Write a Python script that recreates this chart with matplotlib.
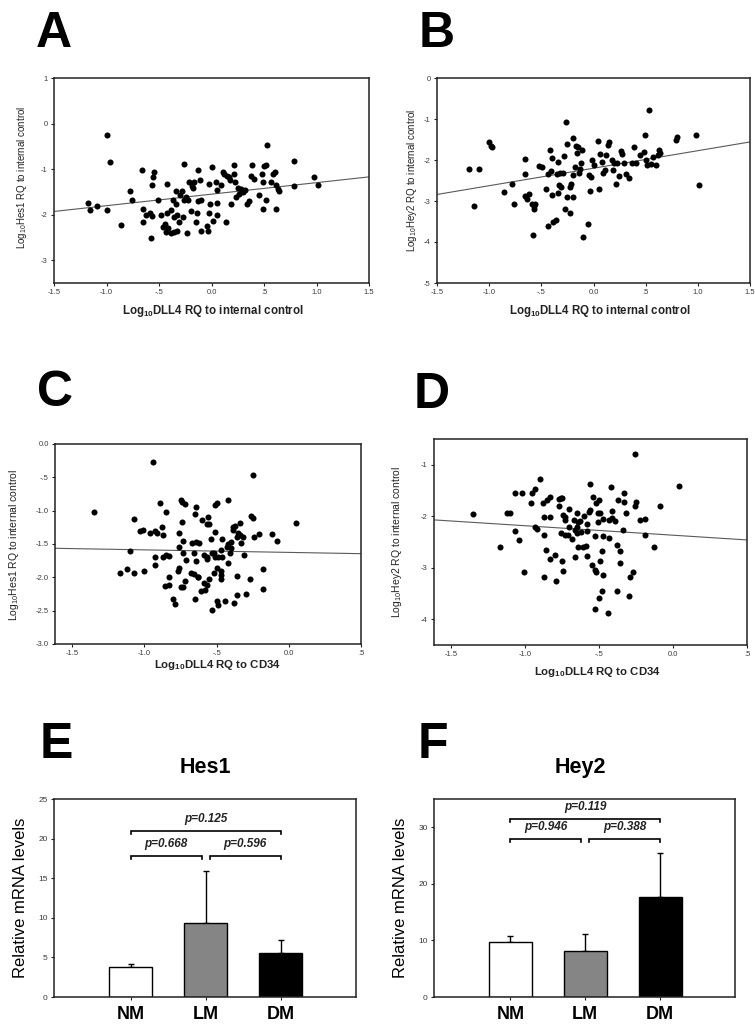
import matplotlib
matplotlib.use('Agg')
import matplotlib.pyplot as plt
import numpy as np

plt.rcParams['font.family'] = ['Liberation Sans', 'DejaVu Sans']
plt.rcParams['mathtext.default'] = 'regular'
plt.rcParams['axes.unicode_minus'] = False

# ---------------- data ----------------
A_x = [-1.18, -1.16, -1.09, -1.00, -1.00, -0.97, -0.86, -0.78, -0.76, -0.66, -0.65, -0.65, -0.62, -0.59,
       -0.58, -0.57, -0.57, -0.55, -0.56, -0.51, -0.48, -0.46, -0.44, -0.42, -0.42, -0.43, -0.41, -0.39,
       -0.39, -0.37, -0.36, -0.36, -0.34, -0.34, -0.33, -0.33, -0.31, -0.30, -0.28, -0.27, -0.26, -0.26,
       -0.24, -0.23, -0.22, -0.21, -0.20, -0.19, -0.18, -0.17, -0.15, -0.14, -0.13, -0.13, -0.11, -0.10,
       -0.10, -0.04, -0.03, -0.02, -0.02, -0.01, 0.00, 0.01, 0.04, 0.05, 0.05, 0.05, 0.09, 0.11, 0.12,
       0.14, 0.15, 0.17, 0.18, 0.19, 0.21, 0.21, 0.22, 0.23, 0.25, 0.26, 0.28, 0.30, 0.32, 0.34, 0.36,
       0.38, 0.39, 0.40, 0.45, 0.48, 0.49, 0.49, 0.50, 0.52, 0.52, 0.53, 0.57, 0.59, 0.60, 0.61, 0.61,
       0.63, 0.64, 0.79, 0.79, 0.98, 1.01]
A_y = [-1.74, -1.90, -1.81, -0.25, -1.90, -0.85, -2.22, -1.49, -1.67, -1.01, -1.88, -2.16, -2.01, -1.96,
       -2.51, -1.35, -2.03, -1.07, -1.17, -1.67, -2.01, -2.26, -2.20, -1.33, -1.96, -2.38, -2.29, -1.90,
       -2.40, -1.68, -2.06, -2.38, -1.49, -1.76, -2.00, -2.35, -2.15, -1.57, -1.49, -2.05, -0.88, -1.68,
       -1.61, -2.40, -1.67, -1.28, -1.92, -1.36, -1.41, -1.28, -2.15, -1.96, -1.02, -1.70, -1.24, -1.67,
       -2.35, -2.24, -2.35, -1.96, -1.33, -1.77, -0.95, -2.13, -1.29, -1.46, -1.74, -2.00, -1.34, -1.06,
       -1.10, -2.16, -1.15, -1.18, -1.24, -1.76, -0.90, -1.10, -1.29, -1.61, -1.41, -1.54, -1.44, -1.50,
       -1.46, -1.76, -1.70, -1.15, -0.90, -1.22, -1.57, -1.10, -1.29, -1.87, -0.93, -0.91, -1.67, -0.46,
       -1.28, -1.10, -1.06, -1.35, -1.87, -1.43, -1.49, -0.82, -1.37, -1.18, -1.34]
A_fit = [0.253, -1.55]   # slope, intercept

B_x = [-1.19, -1.15, -1.10, -1.00, -0.98, -0.97, -0.86, -0.78, -0.76, -0.66, -0.66, -0.66, -0.64, -0.62,
       -0.59, -0.58, -0.57, -0.57, -0.56, -0.52, -0.49, -0.46, -0.44, -0.44, -0.42, -0.41, -0.40, -0.40,
       -0.39, -0.36, -0.35, -0.34, -0.34, -0.33, -0.32, -0.31, -0.29, -0.28, -0.27, -0.26, -0.25, -0.25,
       -0.23, -0.23, -0.22, -0.20, -0.20, -0.20, -0.18, -0.17, -0.16, -0.15, -0.14, -0.13, -0.12, -0.11,
       -0.10, -0.05, -0.04, -0.03, -0.02, -0.01, 0.00, 0.04, 0.05, 0.06, 0.08, 0.09, 0.11, 0.12, 0.14,
       0.15, 0.18, 0.19, 0.20, 0.22, 0.23, 0.24, 0.26, 0.27, 0.29, 0.31, 0.34, 0.37, 0.39, 0.41, 0.45,
       0.48, 0.49, 0.50, 0.51, 0.53, 0.55, 0.57, 0.60, 0.62, 0.63, 0.64, 0.79, 0.80, 0.98, 1.01]
B_y = [-2.23, -3.11, -2.22, -1.56, -1.67, -1.68, -2.78, -2.58, -3.07, -1.97, -2.33, -2.89, -2.94, -2.84,
       -3.07, -3.84, -3.11, -3.20, -3.08, -2.14, -2.16, -2.70, -3.62, -2.33, -1.76, -2.27, -2.86, -1.94,
       -3.51, -3.47, -2.33, -2.05, -2.80, -2.62, -2.31, -2.66, -2.31, -1.91, -3.20, -1.07, -2.90, -1.62,
       -2.66, -3.29, -2.58, -2.37, -1.46, -2.90, -2.17, -1.67, -1.83, -1.68, -2.31, -2.21, -2.07, -1.76,
       -3.88, -3.57, -2.36, -2.76, -2.41, -2.01, -2.13, -1.54, -2.70, -1.86, -2.05, -2.31, -2.25, -1.89,
       -1.63, -1.56, -2.01, -2.25, -2.07, -2.58, -2.07, -2.39, -1.78, -1.86, -2.07, -2.35, -2.44, -2.07,
       -1.68, -2.07, -1.89, -1.80, -1.40, -2.01, -2.13, -0.79, -2.09, -1.93, -2.13, -1.89, -1.76, -1.82,
       -1.52, -1.44, -1.40, -2.62]
B_fit = [0.427, -2.20]

C_x = [-1.35, -1.17, -1.12, -1.10, -1.07, -1.07, -1.03, -1.01, -1.00, -0.96, -0.94, -0.93, -0.93, -0.93,
       -0.91, -0.89, -0.88, -0.87, -0.87, -0.86, -0.85, -0.85, -0.83, -0.83, -0.83, -0.80, -0.79, -0.77,
       -0.76, -0.76, -0.76, -0.75, -0.75, -0.74, -0.74, -0.73, -0.73, -0.73, -0.72, -0.72, -0.71, -0.68,
       -0.67, -0.66, -0.66, -0.65, -0.65, -0.64, -0.64, -0.64, -0.63, -0.63, -0.62, -0.61, -0.60, -0.59,
       -0.59, -0.58, -0.57, -0.57, -0.57, -0.57, -0.56, -0.55, -0.55, -0.54, -0.53, -0.53, -0.52, -0.52,
       -0.51, -0.51, -0.51, -0.50, -0.50, -0.50, -0.49, -0.49, -0.47, -0.47, -0.47, -0.47, -0.46, -0.46,
       -0.44, -0.43, -0.42, -0.42, -0.42, -0.41, -0.40, -0.40, -0.39, -0.39, -0.38, -0.37, -0.36, -0.36,
       -0.36, -0.35, -0.34, -0.34, -0.33, -0.32, -0.31, -0.30, -0.27, -0.26, -0.25, -0.25, -0.24, -0.21,
       -0.18, -0.18, -0.12, -0.08, 0.05]
C_y = [-1.02, -1.94, -1.87, -1.60, -1.12, -1.93, -1.30, -1.29, -1.91, -1.34, -0.27, -1.31, -1.70, -1.81,
       -1.33, -0.88, -1.24, -1.36, -1.69, -2.13, -1.02, -1.66, -2.11, -1.68, -2.00, -2.33, -2.40, -1.90,
       -1.54, -1.86, -1.33, -2.15, -0.84, -0.87, -1.17, -1.64, -1.46, -2.15, -2.05, -0.90, -1.74, -1.93,
       -1.48, -1.64, -1.95, -1.05, -2.32, -0.95, -1.47, -1.76, -2.00, -1.99, -1.48, -2.21, -1.14, -2.09,
       -1.66, -2.19, -1.20, -1.73, -1.69, -2.12, -1.09, -1.20, -2.03, -1.43, -1.64, -2.49, -1.63, -1.94,
       -0.92, -1.32, -1.70, -2.36, -0.89, -1.86, -1.69, -2.41, -1.59, -1.90, -1.96, -2.03, -1.70, -1.42,
       -2.36, -1.54, -1.50, -0.84, -1.79, -1.64, -1.47, -1.56, -1.29, -1.25, -2.39, -1.23, -1.98, -2.27,
       -1.40, -1.34, -1.36, -1.18, -1.49, -1.39, -1.67, -2.25, -2.03, -1.08, -0.47, -1.11, -1.39, -1.35,
       -1.88, -2.18, -1.35, -1.46, -1.19]
C_fit = [-0.038, -1.626]

D_x = [-1.35, -1.17, -1.12, -1.10, -1.07, -1.07, -1.04, -1.02, -1.01, -0.96, -0.95, -0.93, -0.93, -0.92,
       -0.90, -0.88, -0.87, -0.87, -0.87, -0.86, -0.85, -0.83, -0.83, -0.83, -0.80, -0.79, -0.77, -0.77,
       -0.76, -0.76, -0.75, -0.75, -0.74, -0.74, -0.73, -0.73, -0.73, -0.71, -0.70, -0.70, -0.68, -0.67,
       -0.66, -0.66, -0.65, -0.65, -0.65, -0.64, -0.64, -0.63, -0.62, -0.61, -0.60, -0.59, -0.58, -0.58,
       -0.58, -0.57, -0.56, -0.56, -0.55, -0.54, -0.53, -0.53, -0.53, -0.52, -0.52, -0.51, -0.51, -0.50,
       -0.50, -0.49, -0.49, -0.48, -0.48, -0.47, -0.47, -0.47, -0.44, -0.43, -0.43, -0.42, -0.41, -0.41,
       -0.39, -0.38, -0.38, -0.37, -0.36, -0.36, -0.34, -0.33, -0.33, -0.32, -0.30, -0.29, -0.27, -0.26,
       -0.26, -0.25, -0.22, -0.19, -0.19, -0.13, -0.09, 0.04]
D_y = [-1.95, -2.60, -1.93, -1.93, -1.54, -2.28, -2.46, -1.54, -3.09, -1.75, -1.55, -1.48, -2.21, -2.24,
       -1.28, -1.75, -2.02, -2.36, -3.18, -2.65, -1.68, -2.02, -1.62, -2.83, -2.75, -3.26, -1.67, -1.81,
       -1.65, -2.33, -2.86, -1.65, -3.07, -1.97, -2.07, -2.36, -2.02, -2.36, -1.86, -2.21, -2.45, -2.07,
       -2.26, -2.79, -1.94, -2.33, -2.21, -2.12, -2.59, -2.10, -2.30, -2.59, -1.99, -2.57, -2.15, -2.77,
       -2.28, -1.91, -1.38, -1.88, -2.94, -1.63, -3.05, -3.81, -2.39, -3.09, -1.75, -2.12, -1.94, -1.68,
       -3.59, -2.86, -1.94, -3.45, -2.68, -3.15, -2.38, -2.06, -3.88, -2.43, -2.07, -1.43, -1.89, -2.04,
       -2.10, -2.55, -3.46, -1.68, -2.68, -2.90, -2.26, -1.72, -1.54, -1.93, -3.55, -3.17, -3.09, -0.79,
       -1.80, -1.72, -2.08, -2.06, -2.36, -2.60, -1.80, -1.41]
D_fit = [-0.184, -2.368]

groups = ['NM', 'LM', 'DM']
bar_colors = ['white', '#858585', 'black']
hes1_mean = [3.75, 9.30, 5.56]
hes1_err = [0.37, 6.6, 1.6]
hey2_mean = [9.72, 8.07, 17.6]
hey2_err = [1.12, 3.1, 7.9]
hes1_p = [(0, 2, 21.0, 'p=0.125'), (0, 0.945, 17.85, 'p=0.668'), (1.05, 2, 17.85, 'p=0.596')]
hey2_p = [(0, 2, 31.5, 'p=0.119'), (0, 0.945, 27.9, 'p=0.946'), (1.05, 2, 27.9, 'p=0.388')]

# ---------------- figure ----------------
W, H = 755, 1025
fig = plt.figure(figsize=(W / 100, H / 100), dpi=100)


def ax_px(l, t, r, b):
    return fig.add_axes([l / W, 1 - b / H, (r - l) / W, (b - t) / H])


def ftext(x, y, s, **kw):
    return fig.text(x / W, 1 - y / H, s, **kw)


TICKC = '#3a3a3a'


def style_axes(ax, tfs):
    for sp in ax.spines.values():
        sp.set_linewidth(1.1)
        sp.set_color('#222222')
    ax.tick_params(direction='out', length=2.5, width=0.8, labelsize=tfs,
                   labelcolor=TICKC, color='#222222', pad=2)


def scatter_panel(box, x, y, fit, xlim, ylim, xt, xtl, yt, ytl):
    ax = ax_px(*box)
    ax.scatter(x, y, s=19, color='black', linewidths=0, zorder=3)
    xs = np.array(xlim)
    ax.plot(xs, fit[0] * xs + fit[1], color='#5a5a5a', lw=0.8, zorder=2)
    ax.set_xlim(*xlim)
    ax.set_ylim(*ylim)
    ax.set_xticks(xt)
    ax.set_xticklabels(xtl)
    ax.set_yticks(yt)
    ax.set_yticklabels(ytl)
    style_axes(ax, 5.5)
    return ax


xt_ab = [-1.5, -1.0, -0.5, 0.0, 0.5, 1.0, 1.5]
xtl_ab = ['-1.5', '-1.0', '-.5', '0.0', '.5', '1.0', '1.5']
xt_cd = [-1.5, -1.0, -0.5, 0.0, 0.5]
xtl_cd = ['-1.5', '-1.0', '-.5', '0.0', '.5']

scatter_panel((54, 78, 369, 283), A_x, A_y, A_fit, (-1.5, 1.5), (-3.5, 1),
              xt_ab, xtl_ab, [1, 0, -1, -2, -3], ['1', '0', '-1', '-2', '-3'])
scatter_panel((437, 78, 750, 283), B_x, B_y, B_fit, (-1.5, 1.5), (-5, 0),
              xt_ab, xtl_ab, [0, -1, -2, -3, -4, -5], ['0', '-1', '-2', '-3', '-4', '-5'])
scatter_panel((55, 444, 361, 644), C_x, C_y, C_fit, (-1.62, 0.5), (-3, 0),
              xt_cd, xtl_cd, [0, -0.5, -1, -1.5, -2, -2.5, -3],
              ['0.0', '-.5', '-1.0', '-1.5', '-2.0', '-2.5', '-3.0'])
scatter_panel((434, 439, 747, 645), D_x, D_y, D_fit, (-1.615, 0.5), (-4.5, -0.5),
              xt_cd, xtl_cd, [-1, -2, -3, -4], ['-1', '-2', '-3', '-4'])

# axis labels for scatter panels
lab_int = 'Log$_{10}$DLL4 RQ to internal control'
lab_cd = 'Log$_{10}$DLL4 RQ to CD34'
ftext(213, 311, lab_int, ha='center', va='center', fontsize=8.3, fontweight='bold', color='#222222')
ftext(600, 311, lab_int, ha='center', va='center', fontsize=8.3, fontweight='bold', color='#222222')
ftext(217, 665, lab_cd, ha='center', va='center', fontsize=8.2, fontweight='bold', color='#222222')
ftext(597, 672, lab_cd, ha='center', va='center', fontsize=8.2, fontweight='bold', color='#222222')
ftext(22, 177, 'Log$_{10}$Hes1 RQ to internal control', ha='center', va='center', rotation=90, fontsize=7, color='#222222')
ftext(412, 180, 'Log$_{10}$Hey2 RQ to internal control', ha='center', va='center', rotation=90, fontsize=7, color='#222222')
ftext(14, 545, 'Log$_{10}$Hes1 RQ to internal control', ha='center', va='center', rotation=90, fontsize=7.5, color='#222222')
ftext(397, 542, 'Log$_{10}$Hey2 RQ to internal control', ha='center', va='center', rotation=90, fontsize=7.5, color='#222222')


def bar_panel(box, mean, err, ylim, yt, comps, title, tx):
    ax = ax_px(*box)
    pos = np.arange(len(groups))
    ax.bar(pos, mean, width=0.575, color=bar_colors, edgecolor='black', linewidth=1.0, zorder=2)
    ax.errorbar(pos, mean, yerr=[np.zeros(len(err)), err], fmt='none', ecolor='black',
                elinewidth=1.0, capsize=2.5, capthick=1.0, zorder=1)
    span = ylim[1] - ylim[0]
    for x0, x1, yb, s in comps:
        tk = 0.016 * span
        ax.plot([x0, x0, x1, x1], [yb - tk, yb, yb, yb - tk], color='black', lw=1.2,
                solid_joinstyle='miter', zorder=3)
        ax.text((x0 + x1) / 2, yb + 0.03 * span, s, ha='center', va='bottom',
                fontsize=8.5, fontstyle='italic', fontweight='bold', color='#222222')
    ax.set_xlim(-1.02, 3.0)
    ax.set_ylim(*ylim)
    ax.set_yticks(yt)
    ax.set_xticks(pos)
    ax.set_xticklabels(groups)
    style_axes(ax, 6)
    ax.tick_params(axis='x', labelsize=13, labelcolor='black', pad=4)
    for lbl in ax.get_xticklabels():
        lbl.set_fontweight('bold')
    ax.set_ylabel('Relative mRNA levels', fontsize=12)
    ax.yaxis.set_label_coords(-0.085, 0.5)
    ftext(tx, 773, title, ha='center', va='baseline', fontsize=15.5, fontweight='bold')
    return ax


bar_panel((54, 799, 356, 997), hes1_mean, hes1_err, (0, 25), [0, 5, 10, 15, 20, 25],
          hes1_p, 'Hes1', 205)
bar_panel((434, 799, 735, 997), hey2_mean, hey2_err, (0, 35), [0, 10, 20, 30],
          hey2_p, 'Hey2', 580)

# panel letters
for (lx, ly, L) in [(36, 47, 'A'), (419, 47, 'B'), (37, 406, 'C'), (414, 408, 'D'),
                    (40, 758, 'E'), (418, 758, 'F')]:
    ftext(lx, ly, L, ha='left', va='baseline', fontsize=36, fontweight='bold')

fig.savefig('out.png', dpi=100)
